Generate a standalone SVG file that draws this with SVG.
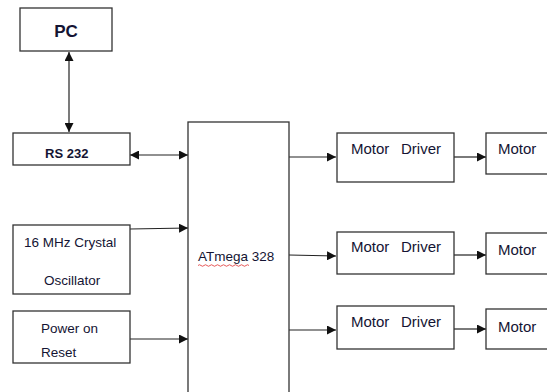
<svg xmlns="http://www.w3.org/2000/svg" width="547" height="392" viewBox="0 0 547 392">
<defs>
<style>
.box{fill:#fff;stroke:#333;stroke-width:1.3}
.t{font-family:"Liberation Sans",Arial,sans-serif;fill:#141433}
.s13{font-size:13.5px}
.s15{font-size:15px}
.b{font-weight:bold}
.ln{stroke:#222;stroke-width:1.2;fill:none}
</style>
<marker id="ah" viewBox="0 0 10 10" refX="10" refY="5" markerWidth="9" markerHeight="9" markerUnits="userSpaceOnUse" orient="auto-start-reverse">
<path d="M0,0 L10,5 L0,10 z" fill="#111"/>
</marker>
</defs>
<rect width="547" height="392" fill="#fff"/>
<g id="connectors">
<line class="ln" x1="69" y1="52" x2="69" y2="132" stroke="#555" stroke-width="1.8" marker-start="url(#ah)" marker-end="url(#ah)"/>
<line class="ln" x1="130" y1="155" x2="188" y2="155" marker-start="url(#ah)" marker-end="url(#ah)"/>
<line class="ln" x1="130" y1="229" x2="188" y2="228" marker-end="url(#ah)"/>
<line class="ln" x1="130" y1="339" x2="188" y2="339" marker-end="url(#ah)"/>
<line class="ln" x1="289" y1="157" x2="336" y2="157" marker-end="url(#ah)"/>
<line class="ln" x1="289" y1="255" x2="336" y2="256" marker-end="url(#ah)"/>
<line class="ln" x1="289" y1="330" x2="336" y2="330" marker-end="url(#ah)"/>
<line class="ln" x1="454" y1="157" x2="486" y2="157" marker-end="url(#ah)"/>
<line class="ln" x1="454" y1="255" x2="486" y2="255" marker-end="url(#ah)"/>
<line class="ln" x1="454" y1="329" x2="486" y2="329" marker-end="url(#ah)"/>
</g>
<g id="pc">
<rect class="box" x="20" y="8" width="92" height="43"/>
<text class="t b" x="66" y="37" font-size="17" text-anchor="middle">PC</text>
</g>
<g id="rs232">
<rect class="box" x="13" y="133" width="117" height="32"/>
<text class="t b" x="45" y="158" font-size="13">RS 232</text>
</g>
<g id="crystal">
<rect class="box" x="13" y="225" width="117" height="69"/>
<text class="t s13" x="24" y="247">16 MHz Crystal</text>
<text class="t s13" x="44" y="285">Oscillator</text>
</g>
<g id="reset">
<rect class="box" x="13" y="311" width="117" height="52"/>
<text class="t s13" x="41" y="333">Power on</text>
<text class="t s13" x="41" y="357">Reset</text>
</g>
<g id="atmega">
<rect class="box" x="188" y="122" width="101" height="280"/>
<text class="t s13" x="198" y="261">ATmega 328</text>
<path d="M198,265.5 q1.5,-1.5 3,0 t3,0 t3,0 t3,0 t3,0 t3,0 t3,0 t3,0 t3,0 t3,0 t3,0 t3,0 t3,0 t3,0 t3,0 t3,0 t3,0" fill="none" stroke="#e03030" stroke-width="0.8"/>
</g>
<g id="driver1">
<rect class="box" x="337" y="133" width="117" height="49"/>
<text class="t s15" x="351" y="154">Motor<tspan x="401">Driver</tspan></text>
</g>
<g id="driver2">
<rect class="box" x="337" y="232" width="117" height="42"/>
<text class="t s15" x="351" y="252">Motor<tspan x="401">Driver</tspan></text>
</g>
<g id="driver3">
<rect class="box" x="337" y="306" width="117" height="43"/>
<text class="t s15" x="351" y="327">Motor<tspan x="401">Driver</tspan></text>
</g>
<g id="motor1">
<rect class="box" x="486" y="133" width="80" height="41"/>
<text class="t s15" x="498" y="154">Motor</text>
</g>
<g id="motor2">
<rect class="box" x="486" y="233" width="80" height="41"/>
<text class="t s15" x="498" y="255">Motor</text>
</g>
<g id="motor3">
<rect class="box" x="486" y="309" width="80" height="40"/>
<text class="t s15" x="498" y="332">Motor</text>
</g>
</svg>
